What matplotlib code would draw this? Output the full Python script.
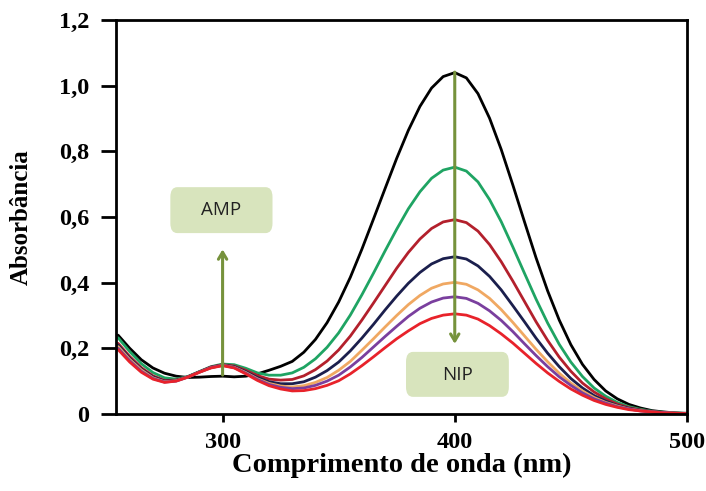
import matplotlib
matplotlib.use("Agg")
import matplotlib.pyplot as plt
from matplotlib.patches import FancyBboxPatch
import numpy as np

# wavelength grid (nm) and absorbance
wl = list(range(255, 505, 5))

black = [0.240, 0.200, 0.165, 0.140, 0.124, 0.115, 0.111, 0.112, 0.114, 0.115,
         0.113, 0.115, 0.122, 0.133, 0.145, 0.160, 0.188, 0.227, 0.278, 0.341,
         0.416, 0.502, 0.594, 0.687, 0.779, 0.864, 0.937, 0.993, 1.028, 1.040,
         1.024, 0.976, 0.901, 0.806, 0.698, 0.586, 0.476, 0.375, 0.286, 0.211,
         0.151, 0.105, 0.070, 0.046, 0.029, 0.018, 0.010, 0.006, 0.003, 0.002]
green = [0.232, 0.190, 0.153, 0.126, 0.110, 0.106, 0.114, 0.129, 0.144, 0.152,
         0.150, 0.139, 0.125, 0.118, 0.118, 0.125, 0.142, 0.168, 0.203, 0.247,
         0.301, 0.363, 0.429, 0.497, 0.563, 0.625, 0.677, 0.718, 0.743, 0.752,
         0.740, 0.707, 0.653, 0.586, 0.509, 0.429, 0.350, 0.277, 0.212, 0.158,
         0.114, 0.079, 0.054, 0.035, 0.022, 0.014, 0.008, 0.005, 0.003, 0.001]
darkred = [0.215, 0.175, 0.141, 0.116, 0.102, 0.103, 0.113, 0.128, 0.143, 0.150,
           0.146, 0.133, 0.117, 0.106, 0.103, 0.105, 0.116, 0.135, 0.161, 0.195,
           0.237, 0.286, 0.338, 0.391, 0.444, 0.492, 0.533, 0.565, 0.585, 0.592,
           0.583, 0.557, 0.516, 0.464, 0.405, 0.343, 0.281, 0.224, 0.173, 0.130,
           0.094, 0.067, 0.046, 0.030, 0.019, 0.012, 0.007, 0.004, 0.002, 0.001]
navy = [0.210, 0.170, 0.137, 0.113, 0.100, 0.102, 0.113, 0.128, 0.142, 0.149,
        0.144, 0.129, 0.111, 0.098, 0.092, 0.092, 0.098, 0.112, 0.132, 0.158,
        0.192, 0.231, 0.273, 0.317, 0.359, 0.398, 0.431, 0.457, 0.473, 0.479,
        0.472, 0.451, 0.419, 0.378, 0.330, 0.281, 0.231, 0.185, 0.144, 0.108,
        0.079, 0.056, 0.039, 0.026, 0.017, 0.011, 0.007, 0.004, 0.002, 0.001]
orange = [0.205, 0.166, 0.134, 0.110, 0.098, 0.101, 0.112, 0.127, 0.141, 0.148,
          0.142, 0.126, 0.107, 0.093, 0.085, 0.082, 0.086, 0.096, 0.111, 0.133,
          0.160, 0.194, 0.229, 0.265, 0.300, 0.333, 0.361, 0.383, 0.396, 0.401,
          0.395, 0.378, 0.352, 0.318, 0.279, 0.238, 0.197, 0.159, 0.124, 0.094,
          0.070, 0.050, 0.035, 0.024, 0.015, 0.010, 0.006, 0.004, 0.002, 0.001]
purple = [0.200, 0.162, 0.130, 0.108, 0.097, 0.100, 0.112, 0.127, 0.141, 0.148,
          0.141, 0.124, 0.105, 0.090, 0.081, 0.077, 0.079, 0.087, 0.100, 0.118,
          0.143, 0.172, 0.204, 0.236, 0.267, 0.297, 0.322, 0.341, 0.353, 0.357,
          0.352, 0.337, 0.314, 0.285, 0.251, 0.214, 0.178, 0.144, 0.113, 0.087,
          0.064, 0.046, 0.033, 0.022, 0.015, 0.009, 0.006, 0.004, 0.002, 0.001]
red = [0.196, 0.158, 0.127, 0.106, 0.096, 0.100, 0.112, 0.127, 0.140, 0.147,
       0.140, 0.122, 0.102, 0.086, 0.076, 0.070, 0.071, 0.077, 0.087, 0.101,
       0.122, 0.147, 0.174, 0.202, 0.229, 0.253, 0.275, 0.291, 0.301, 0.305,
       0.301, 0.289, 0.269, 0.244, 0.216, 0.185, 0.154, 0.125, 0.099, 0.076,
       0.057, 0.041, 0.029, 0.020, 0.013, 0.009, 0.006, 0.003, 0.002, 0.001]

series = [black, green, darkred, navy, orange, purple, red]
colors = ["#000000", "#1fa463", "#b3202c", "#1b1f4d", "#f0a862", "#7a3f9e", "#e8222a"]

xticks = [300, 400, 500]
yticks = [0, 0.2, 0.4, 0.6, 0.8, 1.0, 1.2]
yticklabels = ["0", "0,2", "0,4", "0,6", "0,8", "1,0", "1,2"]

serif = "Liberation Serif"

fig = plt.figure(figsize=(7.06, 4.91), dpi=100)
ax = fig.add_axes([0.164, 0.157, 0.809, 0.802])

for y, c in zip(series, colors):
    ax.plot(wl, y, color=c, lw=2.0, solid_joinstyle="round", solid_capstyle="round")

ax.set_xlim(254, 500)
ax.set_ylim(0, 1.2)
ax.set_xticks(xticks)
ax.set_xticklabels([str(t) for t in xticks])
ax.set_yticks(yticks)
ax.set_yticklabels(yticklabels)
for s in ax.spines.values():
    s.set_linewidth(2)
ax.tick_params(axis="y", direction="out", length=11, width=2, pad=8)
ax.tick_params(axis="x", direction="out", length=6, width=2, pad=7)
for lab in ax.get_xticklabels() + ax.get_yticklabels():
    lab.set_fontfamily(serif)
    lab.set_fontweight("bold")
    lab.set_fontsize(17.5)

ax.set_xlabel("Comprimento de onda (nm)", fontfamily=serif, fontweight="bold",
              fontsize=20.5, labelpad=0)
ax.set_ylabel("Absorbância", fontfamily=serif, fontweight="bold",
              fontsize=18, labelpad=19)

# annotation boxes and arrows
box_color = "#d8e4bd"
arrow_color = "#76923c"

amp = FancyBboxPatch((277.5, 0.551), 44, 0.14, boxstyle="round,pad=0,rounding_size=3",
                     fc=box_color, ec="none", mutation_aspect=0.01, zorder=3)
ax.add_patch(amp)
ax.text(299.5, 0.621, "AMP", ha="center", va="center", fontsize=13.5,
        fontfamily="Open Sans", color="#222222", zorder=4)

nip = FancyBboxPatch((379, 0.052), 44.3, 0.137, boxstyle="round,pad=0,rounding_size=3",
                     fc=box_color, ec="none", mutation_aspect=0.01, zorder=3)
ax.add_patch(nip)
ax.text(401, 0.12, "NIP", ha="center", va="center", fontsize=13.5,
        fontfamily="Open Sans", color="#222222", zorder=4)

ax.annotate("", xy=(300, 0.51), xytext=(300, 0.11),
            arrowprops=dict(arrowstyle="->,head_length=0.5,head_width=0.3",
                            color=arrow_color, lw=2.2), zorder=5)
ax.annotate("", xy=(400, 0.205), xytext=(400, 1.05),
            arrowprops=dict(arrowstyle="->,head_length=0.5,head_width=0.3",
                            color=arrow_color, lw=2.2), zorder=5)

fig.savefig("out.png", dpi=100)
